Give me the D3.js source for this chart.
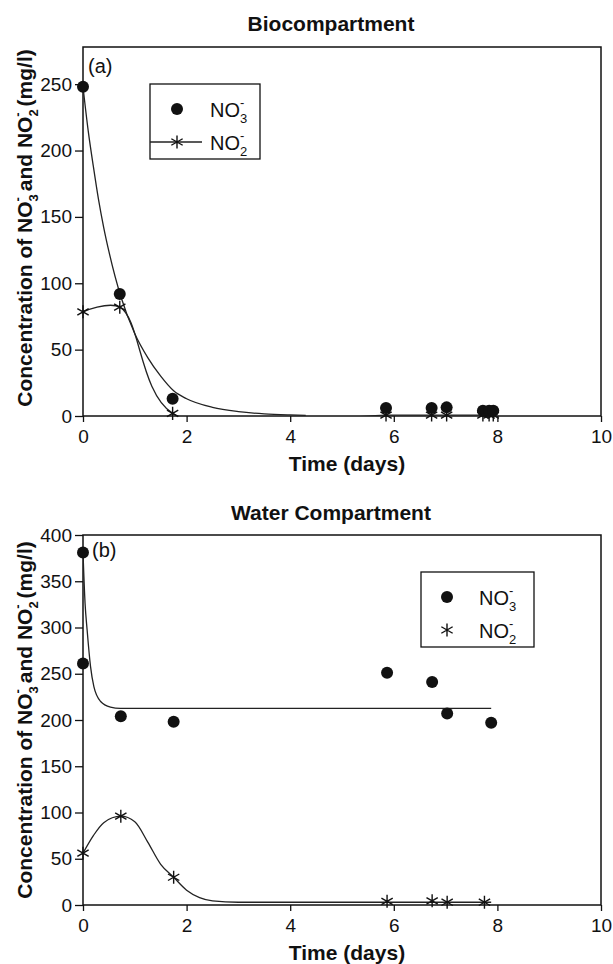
<!DOCTYPE html>
<html>
<head>
<meta charset="utf-8">
<script src="https://cdn.jsdelivr.net/npm/d3@7"></script>
<style>
  body { margin: 0; background: #fff; }
  svg text { font-family: "Liberation Sans", Arial, sans-serif; fill: #111; }
</style>
</head>
<body>
<div id="chart"></div>
<script>
// ---- data ----
const xTicks = [0, 2, 4, 6, 8, 10];

// (a) Biocompartment
const bioDays = [0, 0.71, 1.73, 5.85, 6.73, 7.02, 7.72, 7.84, 7.92];
const bioNO3 = [248, 92, 13, 6, 6, 6.5, 4, 4, 4];
const bioNO2 = [78.5, 82, 2, 0.7, 0.7, 0.7, 0.7, 0.7, 0.7];
const bioFitDays = [0, 0.1, 0.2, 0.3, 0.4, 0.5, 0.73, 1.0, 1.25, 1.5, 1.75, 2.0, 2.5, 3.0, 3.5, 4.0, 4.3];
const bioFitNO3 = [248, 215, 188, 163, 142, 124, 90, 62, 44, 30, 19, 13, 6.5, 3.3, 1.6, 0.8, 0.5];
const bioYTicks = [0, 50, 100, 150, 200, 250];

// (b) Water compartment
const waterNO3Days = [0, 0, 0.73, 1.75, 5.87, 6.74, 7.03, 7.88];
const waterNO3 = [381, 261, 204, 198, 251, 241, 207, 197];
const waterNO2Days = [0, 0.73, 1.75, 5.87, 6.74, 7.03, 7.75];
const waterNO2 = [56, 96, 30, 4, 4.5, 3, 3];
const waterFitNO3Days = [0, 0.04, 0.08, 0.145, 0.21, 0.34, 0.53, 0.72, 7.88];
const waterFitNO3 = [381, 326, 297, 258, 236, 220, 214, 212.6, 212.6];
const waterFitNO2Days = [0, 0.2, 0.4, 0.73, 1.0, 1.25, 1.5, 1.75, 2.0, 2.25, 2.5, 3.0, 7.88];
const waterFitNO2 = [56, 75, 89, 96, 90, 68, 44, 30, 16, 8, 4.5, 3, 3];
const waterYTicks = [0, 50, 100, 150, 200, 250, 300, 350, 400];

const zip = (xs, ys) => xs.map((x, i) => [x, ys[i]]);

const svg = d3.select("#chart").append("svg")
    .attr("width", 613)
    .attr("height", 964);

// text with sub/superscripts: parts = [[text, "sub"|"sup"|undefined], ...]
function chem(text, parts, big, small) {
    let shift = 0;
    parts.forEach(function (p) {
        const t = text.append("tspan").text(p[0]);
        if (p[1] === "sub") {
            t.attr("font-size", small).attr("dy", 6 - shift);
            shift = 6;
        } else if (p[1] === "sup") {
            t.attr("font-size", small).attr("dy", -10 - shift).attr("dx", -small * 0.56);
            shift = -10;
        } else {
            t.attr("font-size", big).attr("dy", -shift);
            shift = 0;
        }
    });
}

const yLabelParts = [["Concentration of NO"], ["3", "sub"], ["-", "sup"], [" and NO"], ["2", "sub"], ["-", "sup"], [" (mg/l)"]];

function drawPanel(cfg) {
    const left = 83, right = 601;
    const x = d3.scaleLinear().domain([0, 10]).range([left, right]);
    const y = d3.scaleLinear().domain([0, cfg.yMax]).range([cfg.bottom, cfg.top]);

    const g = svg.append("g");

    // title
    g.append("text")
        .attr("x", 331).attr("y", cfg.titleY)
        .attr("text-anchor", "middle")
        .attr("font-size", 21).attr("font-weight", "bold")
        .text(cfg.title);

    // axes
    const xAxis = g.append("g")
        .attr("transform", "translate(0," + cfg.bottom + ")")
        .call(d3.axisBottom(x).tickValues(xTicks).tickSize(6).tickPadding(8).tickSizeOuter(0));
    const yAxis = g.append("g")
        .attr("transform", "translate(" + left + ",0)")
        .call(d3.axisLeft(y).tickValues(cfg.yTicks).tickSize(8).tickPadding(3).tickSizeOuter(0));
    [xAxis, yAxis].forEach(function (a) {
        a.select(".domain").remove();
        a.selectAll("line").attr("stroke", "#111").attr("stroke-width", 1.3);
        a.selectAll("text").attr("font-size", 19).attr("font-family", "Liberation Sans, Arial, sans-serif").attr("fill", "#111");
    });

    // frame
    g.append("rect")
        .attr("x", left).attr("y", cfg.top)
        .attr("width", right - left).attr("height", cfg.bottom - cfg.top)
        .attr("fill", "none").attr("stroke", "#111").attr("stroke-width", 1.5);

    // axis titles
    g.append("text")
        .attr("x", 347).attr("y", cfg.bottom + 55)
        .attr("text-anchor", "middle")
        .attr("font-size", 21).attr("font-weight", "bold")
        .text("Time (days)");
    const yl = g.append("text")
        .attr("transform", "translate(32," + cfg.yLabelMid + ") rotate(-90)")
        .attr("text-anchor", "middle")
        .attr("font-weight", "bold");
    chem(yl, yLabelParts, 21, 13);

    // panel tag
    g.append("text")
        .attr("x", cfg.tagX).attr("y", cfg.tagY)
        .attr("font-size", 20)
        .text(cfg.tag);

    // clip to plot area
    const clipId = "clip-" + cfg.tag.replace(/\W/g, "");
    svg.append("clipPath").attr("id", clipId)
        .append("rect")
        .attr("x", left).attr("y", cfg.top)
        .attr("width", right - left).attr("height", cfg.bottom - cfg.top);

    const lines = g.append("g").attr("clip-path", "url(#" + clipId + ")");
    cfg.curves.forEach(function (c) {
        lines.append("path")
            .datum(c.pts)
            .attr("d", d3.line().x(d => x(d[0])).y(d => y(d[1])).curve(c.curve))
            .attr("fill", "none")
            .attr("stroke", "#222")
            .attr("stroke-width", 1.3);
    });

    // markers
    const star = d3.symbol(d3.symbolAsterisk, 120);
    g.append("g").selectAll("path")
        .data(cfg.no2)
        .join("path")
        .attr("transform", d => "translate(" + x(d[0]) + "," + y(d[1]) + ")")
        .attr("d", star)
        .attr("fill", "none")
        .attr("stroke", "#111")
        .attr("stroke-width", 1.4);
    g.append("g").selectAll("circle")
        .data(cfg.no3)
        .join("circle")
        .attr("cx", d => x(d[0]))
        .attr("cy", d => y(d[1]))
        .attr("r", 6)
        .attr("fill", "#111");

    // legend
    const L = cfg.legend;
    const lg = g.append("g");
    lg.append("rect")
        .attr("x", L.x).attr("y", L.y)
        .attr("width", L.w).attr("height", L.h)
        .attr("fill", "#fff").attr("stroke", "#111").attr("stroke-width", 1.3);
    lg.append("circle")
        .attr("cx", L.markX).attr("cy", L.y + 25)
        .attr("r", 6).attr("fill", "#111");
    if (L.line) {
        lg.append("line")
            .attr("x1", L.x).attr("x2", L.markX + 25)
            .attr("y1", L.y + 58).attr("y2", L.y + 58)
            .attr("stroke", "#222").attr("stroke-width", 1.3);
    }
    lg.append("path")
        .attr("transform", "translate(" + L.markX + "," + (L.y + 58) + ")")
        .attr("d", star)
        .attr("fill", "none").attr("stroke", "#111").attr("stroke-width", 1.4);
    const t1 = lg.append("text").attr("x", L.textX).attr("y", L.y + 33);
    chem(t1, [["NO"], ["3", "sub"], ["-", "sup"]], 20, 13);
    const t2 = lg.append("text").attr("x", L.textX).attr("y", L.y + 66);
    chem(t2, [["NO"], ["2", "sub"], ["-", "sup"]], 20, 13);
}

drawPanel({
    title: "Biocompartment", titleY: 31,
    top: 47, bottom: 416, yMax: 278, yTicks: bioYTicks, yLabelMid: 228,
    tag: "(a)", tagX: 88, tagY: 73,
    no3: zip(bioDays, bioNO3),
    no2: zip(bioDays, bioNO2),
    curves: [
        { pts: zip(bioFitDays, bioFitNO3), curve: d3.curveMonotoneX },
        { pts: zip(bioDays, bioNO2), curve: d3.curveCatmullRom }
    ],
    legend: { x: 150, y: 84, w: 110, h: 75, markX: 177, textX: 210, line: true }
});

drawPanel({
    title: "Water Compartment", titleY: 520,
    top: 535, bottom: 905, yMax: 400, yTicks: waterYTicks, yLabelMid: 720,
    tag: "(b)", tagX: 92, tagY: 557,
    no3: zip(waterNO3Days, waterNO3),
    no2: zip(waterNO2Days, waterNO2),
    curves: [
        { pts: zip(waterFitNO3Days, waterFitNO3), curve: d3.curveMonotoneX },
        { pts: zip(waterFitNO2Days, waterFitNO2), curve: d3.curveMonotoneX }
    ],
    legend: { x: 421, y: 572, w: 113, h: 75, markX: 447, textX: 479, line: false }
});
</script>
</body>
</html>
